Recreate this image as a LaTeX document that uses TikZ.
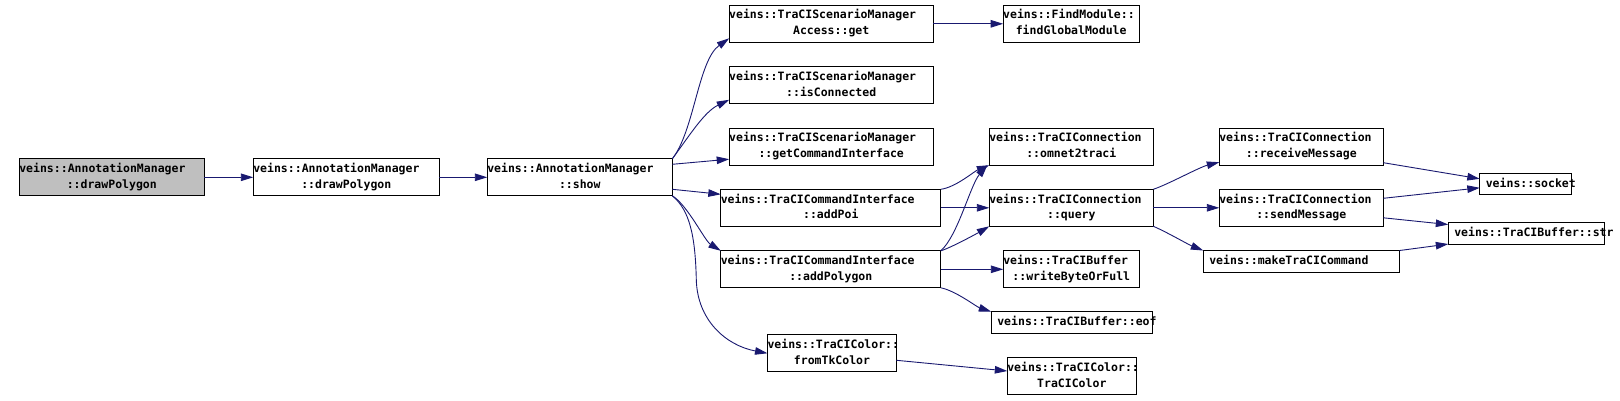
\documentclass[tikz,border=0pt]{standalone}
\usepackage{fontspec}
\newfontfamily\fnmono{DejaVu Sans Mono}
\usetikzlibrary{positioning,arrows.meta}
\definecolor{callblue}{HTML}{191970}
\definecolor{focusgray}{HTML}{BFBFBF}
\newcommand{\two}[2]{\makebox[\hsize][l]{\strut#1}\\#2\strut}
\newcommand{\one}[1]{\makebox[\hsize][l]{\strut\hspace{6pt}#1}}

\begin{document}
\begin{tikzpicture}[x=1pt, y=-1pt, node distance=48pt,
  fn/.style={draw, fill=white, line width=0.9pt, inner sep=0pt, outer sep=0pt, align=center, minimum height=37pt, font=\fnmono\bfseries\fontsize{11.5pt}{16pt}\selectfont},
  fn1/.style={fn, minimum height=21.5pt},
  call/.style={draw=callblue, line width=0.9pt, -{Triangle[length=12.5pt,width=7.5pt]}}]
\useasboundingbox (0,0) rectangle (1620,401);
\node[fn, fill=focusgray, text width=185pt] (draw1) at (111.8,177.3) {\two{veins::AnnotationManager}{::drawPolygon}};
\node[fn, text width=186pt, right=49pt of draw1] (draw2) {\two{veins::AnnotationManager}{::drawPolygon}};
\node[fn, text width=185pt, right=of draw2] (show) {\two{veins::AnnotationManager}{::show}};
\node[fn, text width=204pt] (getAcc) at (831.2,23.8) {\two{veins::TraCIScenarioManager}{Access::get}};
\node[fn, text width=136pt, right=70pt of getAcc] (findMod) {\two{veins::FindModule::}{findGlobalModule}};
\node[fn, text width=204pt] (isConn) at (831.2,85.3) {\two{veins::TraCIScenarioManager}{::isConnected}};
\node[fn, text width=204pt] (getCI) at (831.2,146.7) {\two{veins::TraCIScenarioManager}{::getCommandInterface}};
\node[fn, text width=220pt] (addPoi) at (830.8,207.8) {\two{veins::TraCICommandInterface}{::addPoi}};
\node[fn, text width=220pt] (addPoly) at (830.8,269.3) {\two{veins::TraCICommandInterface}{::addPolygon}};
\node[fn, text width=129pt] (fromTk) at (832,353.3) {\two{veins::TraCIColor::}{fromTkColor}};
\node[fn, text width=164pt] (omnet) at (1071.3,146.7) {\two{veins::TraCIConnection}{::omnet2traci}};
\node[fn, text width=164pt, right=48.5pt of addPoi] (query) {\two{veins::TraCIConnection}{::query}};
\node[fn, text width=136pt, right=62.5pt of addPoly] (writeByte) {\two{veins::TraCIBuffer}{::writeByteOrFull}};
\node[fn1, text width=161pt] (eof) at (1071.8,322.5) {\one{veins::TraCIBuffer::eof}};
\node[fn, text width=129pt] (color) at (1071.8,376) {\two{veins::TraCIColor::}{TraCIColor}};
\node[fn, text width=164pt] (recvMsg) at (1301.3,146.7) {\two{veins::TraCIConnection}{::receiveMessage}};
\node[fn, text width=164pt, right=66pt of query] (sendMsg) {\two{veins::TraCIConnection}{::sendMessage}};
\node[fn1, text width=196pt] (makeCmd) at (1301.3,261.3) {\one{veins::makeTraCICommand}};
\node[fn1, text width=92pt] (socket) at (1525.8,183.8) {\one{veins::socket}};
\node[fn1, text width=156pt] (str) at (1526.3,233.3) {\one{veins::TraCIBuffer::str}};
\draw[call] (draw1) -- (draw2);
\draw[call] (draw2) -- (show);
\draw[call] (show.north east) .. controls +(22,-28) and +(-31,22) .. ([yshift=4pt]getAcc.south west);
\draw[call] (show.north east) .. controls +(17,-23) and +(-25,12) .. ([yshift=4pt]isConn.south west);
\draw[call] ([yshift=13pt]show.east) -- ([yshift=6pt]getCI.south west);
\draw[call] ([yshift=-12pt]show.east) -- ([yshift=-5pt]addPoi.north west);
\draw[call] (show.south east) .. controls +(15,9) and +(-16,-10) .. (addPoly.north west);
\draw[call] (show.south east) .. controls +(17,14) and +(-1,-45) .. ++(24,84) .. controls +(1,40) and +(-42,-8) .. (fromTk.west);
\draw[call] (getAcc) -- (findMod);
\draw[call] (addPoi.north east) .. controls +(15,-2) and +(-15,6) .. (omnet.south west);
\draw[call] (addPoi) -- (query);
\draw[call] (addPoly.north east) .. controls +(17,-15) and +(-17,20) .. ([xshift=-2pt]omnet.south west);
\draw[call] (addPoly.north east) .. controls +(10,-3) and +(-12,7) .. (query.south west);
\draw[call] (addPoly) -- (writeByte);
\draw[call] (addPoly.south east) .. controls +(15,3) and +(-15,-5) .. (eof.north west);
\draw[call] ([yshift=-7pt]fromTk.east) -- ([yshift=5pt]color.west);
\draw[call] (query.north east) .. controls +(15,-5) and +(-20,5) .. ([yshift=3pt]recvMsg.south west);
\draw[call] (query) -- (sendMsg);
\draw[call] (query.south east) .. controls +(12,5) and +(-15,-6) .. (makeCmd.north west);
\draw[call] ([yshift=-16pt]recvMsg.east) -- ([yshift=5pt]socket.west);
\draw[call] ([yshift=9.5pt]sendMsg.east) -- ([yshift=-4pt]socket.west);
\draw[call] ([yshift=-10pt]sendMsg.east) -- ([yshift=-2pt]str.north west);
\draw[call] (makeCmd.north east) -- (str.south west);
\end{tikzpicture}
\end{document}
